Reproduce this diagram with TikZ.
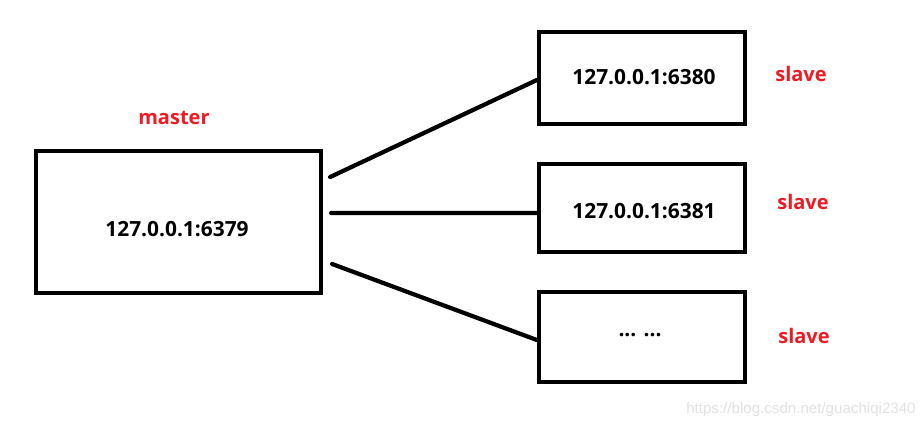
\documentclass[tikz,border=0pt]{standalone}
\usepackage{fontspec}
\setmainfont{Open Sans}
\newfontfamily\markfont{Liberation Sans}
\definecolor{roleRed}{HTML}{ED1C24}
\definecolor{markGray}{HTML}{E2E2E2}
\usetikzlibrary{positioning}

\tikzset{
  box/.style={draw=black, line width=0.085cm, minimum width=4.12cm, minimum height=1.8cm, inner sep=0pt},
  addr/.style={font=\fontsize{11.9}{14}\selectfont\bfseries},
  role/.style={font=\fontsize{11.4}{14}\selectfont\bfseries, text=roleRed},
  link/.style={line width=0.085cm, line cap=round}
}

\begin{document}
\begin{tikzpicture}
  \useasboundingbox[fill=white] (0cm,0cm) rectangle (18.48cm,-8.54cm);
  % master
  \node[box, minimum width=5.7cm, minimum height=2.84cm] (master) at (3.57cm,-4.44cm) {};
  \node[addr] (masterip) at (3.54cm,-4.58cm) {127.0.0.1:6379};
  \node[role] (masterrole) at (3.48cm,-2.36cm) {master};
  % slaves
  \node[box, minimum height=1.84cm] (slaveA) at (12.84cm,-1.56cm) {};
  \node[addr] (slaveAip) at (12.88cm,-1.54cm) {127.0.0.1:6380};
  \node[role] (slaveArole) at (16.02cm,-1.48cm) {slave};
  \node[box, minimum height=1.76cm] (slaveB) at (12.84cm,-4.16cm) {};
  \node[addr] (slaveBip) at (12.88cm,-4.22cm) {127.0.0.1:6381};
  \node[role] (slaveBrole) at (16.06cm,-4.04cm) {slave};
  \node[box] (slaveC) at (12.84cm,-6.74cm) {};
  \node[addr] (slaveCip) at (12.80cm,-6.70cm) {... ...};
  \node[role] (slaveCrole) at (16.08cm,-6.72cm) {slave};
  % links
  \draw[link] ([xshift=0.14cm,yshift=0.9cm]master.east) -- ([yshift=-0.04cm]slaveA.west);
  \draw[link] ([xshift=0.16cm,yshift=0.18cm]master.east) -- ([yshift=-0.1cm]slaveB.west);
  \draw[link] ([xshift=0.18cm,yshift=-0.84cm]master.east) -- ([yshift=-0.06cm]slaveC.west);
  % watermark
  \node[anchor=east, text=markGray, font=\markfont\fontsize{8.6}{10}\selectfont, inner sep=0pt] (mark) at (18.32cm,-8.2cm) {https://blog.csdn.net/guachiqi2340};
\end{tikzpicture}
\end{document}
